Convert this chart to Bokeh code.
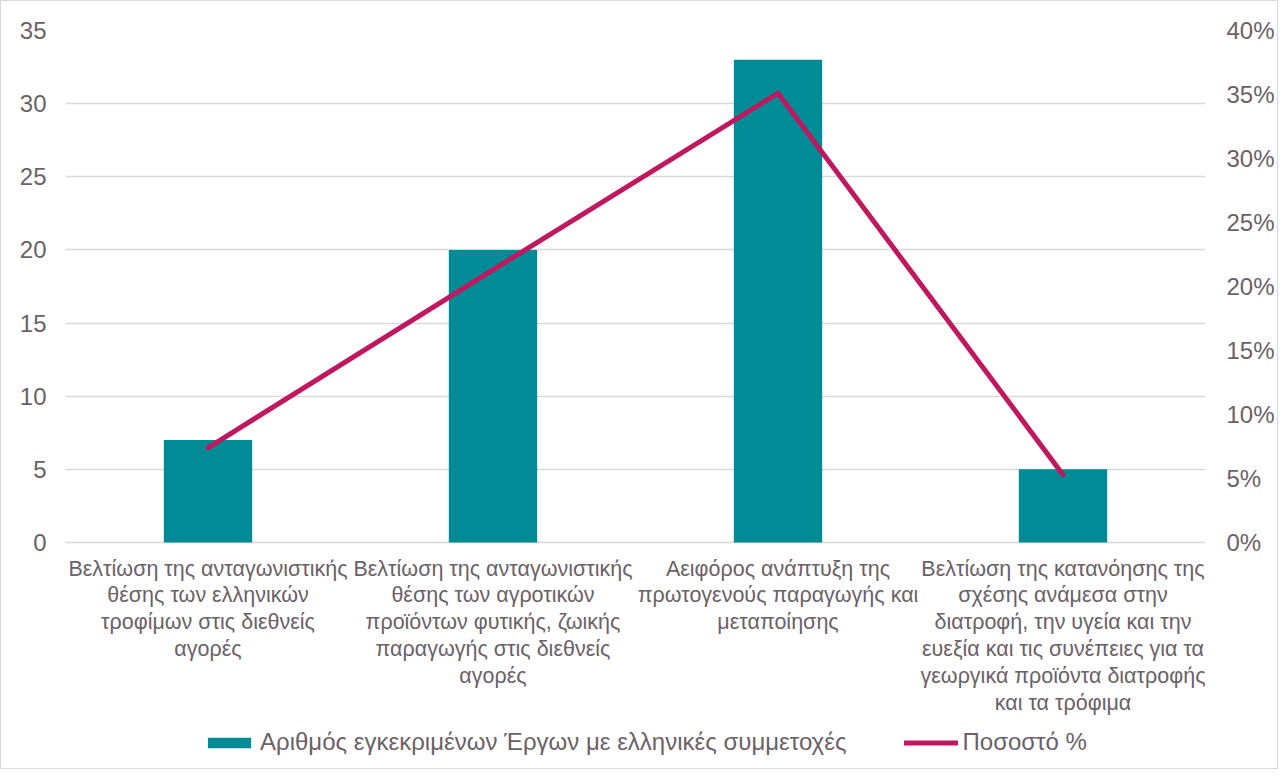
from bokeh.plotting import figure
from bokeh.models import (FactorRange, Range1d, LinearAxis, FixedTicker,
                          PrintfTickFormatter, Legend, LegendItem, ColumnDataSource)
from bokeh.core.properties import value
from bokeh.embed import file_html
from bokeh.resources import INLINE

categories = [
    "Βελτίωση της ανταγωνιστικής\nθέσης των ελληνικών\nτροφίμων στις διεθνείς\nαγορές",
    "Βελτίωση της ανταγωνιστικής\nθέσης των αγροτικών\nπροϊόντων φυτικής, ζωικής\nπαραγωγής στις διεθνείς\nαγορές",
    "Αειφόρος ανάπτυξη της\nπρωτογενούς παραγωγής και\nμεταποίησης",
    "Βελτίωση της κατανόησης της\nσχέσης ανάμεσα στην\nδιατροφή, την υγεία και την\nευεξία και τις συνέπειες για τα\nγεωργικά προϊόντα διατροφής\nκαι τα τρόφιμα",
]
projects = [7, 20, 33, 5]
percent = [7.4, 21.3, 35.1, 5.3]
left_ticks = [0, 5, 10, 15, 20, 25, 30, 35]
right_ticks = [0, 5, 10, 15, 20, 25, 30, 35, 40]
bar_label = "Αριθμός εγκεκριμένων Έργων με ελληνικές συμμετοχές"
line_label = "Ποσοστό %"

FONT = "Liberation Sans"
TXT = "#6b6166"

# frame: 512 px for the value area, 224 px below it for category labels and legend
VAL_PX, LOW_PX = 512, 224
left_max, right_max = left_ticks[-1], right_ticks[-1]
left_min = -LOW_PX * left_max / VAL_PX
right_min = -LOW_PX * right_max / VAL_PX

src = ColumnDataSource(dict(cat=categories, n=projects, pct=percent,
                            zero=[0] * len(categories)))

p = figure(frame_width=1140, frame_height=VAL_PX + LOW_PX, output_backend="svg",
           toolbar_location=None,
           x_range=FactorRange(*categories, range_padding=0),
           y_range=Range1d(left_min, left_max),
           min_border_left=64, min_border_right=66, min_border_top=29, min_border_bottom=2)
p.styles = {"border": "1px solid #d9d9d9"}
p.extra_y_ranges = {"pct": Range1d(right_min, right_max)}
p.outline_line_color = None

bars = p.vbar(x="cat", top="n", width=0.31, source=src, color="#008b96", line_color=None)
line = p.line(x="cat", y="pct", source=src, y_range_name="pct", color="#c0185e",
              line_width=5, line_cap="round", line_join="miter")

# category labels under the bars
p.text(x="cat", y="zero", text="cat", source=src, text_align="center",
       text_baseline="top", y_offset=14, text_font=value(FONT),
       text_font_size="21.5px", text_color=TXT, text_line_height=1.12)

# left axis
la = p.yaxis[0]
la.ticker = FixedTicker(ticks=left_ticks)
la.axis_line_color = None
la.major_tick_line_color = None
la.minor_tick_line_color = None
la.major_label_text_font = FONT
la.major_label_text_font_size = "24px"
la.major_label_text_color = TXT
la.major_label_standoff = 13

ra = LinearAxis(y_range_name="pct", ticker=FixedTicker(ticks=right_ticks),
                formatter=PrintfTickFormatter(format="%d%%"))
ra.axis_line_color = None
ra.major_tick_line_color = None
ra.minor_tick_line_color = None
ra.major_label_text_font = FONT
ra.major_label_text_font_size = "24px"
ra.major_label_text_color = TXT
ra.major_label_standoff = 15
p.add_layout(ra, "right")

p.xaxis.visible = False
p.xgrid.grid_line_color = None
p.ygrid.grid_line_color = "#d9d9d9"
p.ygrid.grid_line_width = 1.5
p.ygrid.ticker = FixedTicker(ticks=left_ticks)

legend = Legend(items=[LegendItem(label=bar_label, renderers=[bars]),
                       LegendItem(label=line_label, renderers=[line])],
                location=(137, 10), orientation="horizontal",
                glyph_width=54, glyph_height=13, label_standoff=4, spacing=58,
                padding=0, margin=0, border_line_color=None, background_fill_alpha=0,
                label_text_font=FONT, label_text_font_size="24px", label_text_color=TXT)
p.add_layout(legend, "center")

open("out.html", "w").write(file_html(p, INLINE))
